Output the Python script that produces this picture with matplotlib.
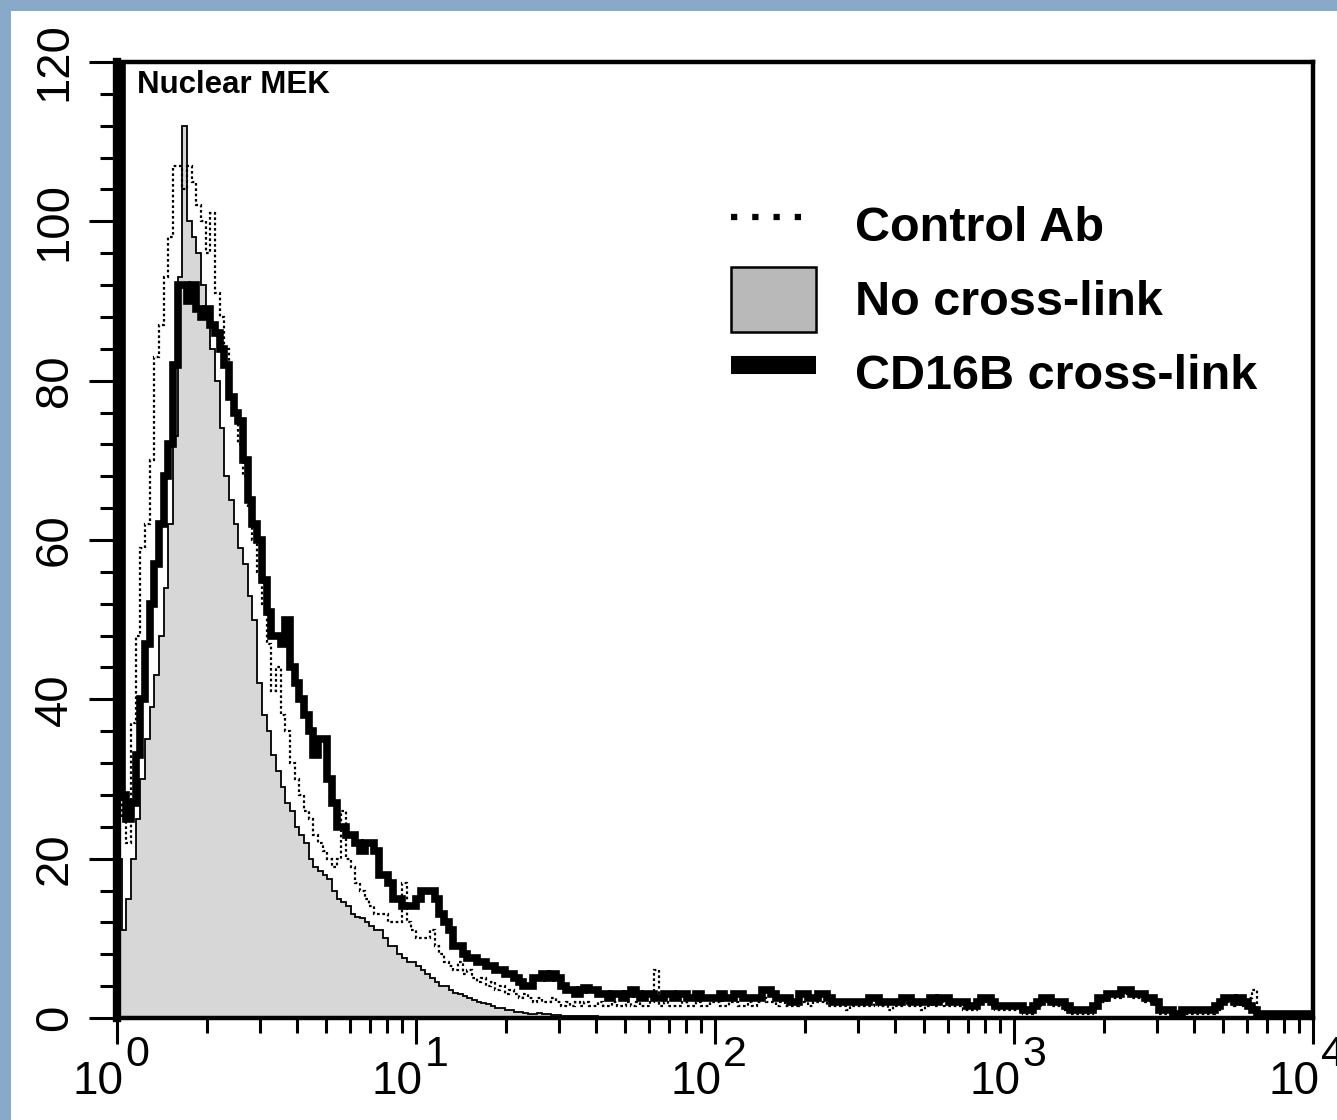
import matplotlib
matplotlib.use("Agg")
import matplotlib.pyplot as plt
from matplotlib.lines import Line2D
from matplotlib.patches import Patch, Rectangle
import matplotlib.transforms as mtransforms
import numpy as np

# histogram counts per channel, 64 channels per decade, starting at 10^0
cd16b_counts = [
    125, 28, 25, 27, 33, 40, 47, 52, 57, 62,
    68, 72, 82, 92, 92, 90, 92, 89, 88, 89,
    87, 86, 84, 82, 78, 76, 75, 70, 65, 62,
    60, 55, 51, 48, 48, 47, 50, 44, 42, 40,
    38, 36, 33, 35, 35, 30, 27, 24, 24, 23,
    23, 22, 21, 22, 22, 21, 18, 18, 17, 15,
    15, 14, 14, 14, 15, 16, 16, 16, 15, 13,
    12, 11, 9, 9, 8, 7.5, 7.5, 7, 7, 6.5,
    6.5, 6, 6, 5.5, 5.5, 5, 4.5, 4, 4, 5,
    5, 5.5, 5, 5.5, 5, 4, 3.5, 3.5, 3, 3.5,
    3.8, 3.5, 3.5, 3, 3, 2.5, 3, 3, 2.5, 3,
    3.5, 3, 2.5, 3, 3, 2.5, 2.5, 3, 3, 2.5,
    3, 3, 2.5, 2.5, 3, 2.5, 2.5, 2.5, 2.5, 3,
    2.5, 2.5, 3, 3, 2.5, 2.5, 2.5, 2.5, 3.5, 3.5,
    3, 2.5, 2.5, 2.5, 2, 2, 3, 3, 2.5, 2.5,
    3, 3, 2.5, 2, 2, 2, 2, 2, 2, 2,
    2, 2.5, 2.5, 2, 2, 2, 2, 2, 2.5, 2.5,
    2, 2, 2, 2, 2.5, 2, 2.5, 2.5, 2, 2,
    2, 2, 1.5, 1.5, 2, 2.5, 2.5, 2, 1.5, 1.5,
    1.5, 1.5, 1.5, 1.5, 1, 1, 1.5, 2, 2.5, 2.5,
    2, 2, 2, 1.5, 1, 1, 1, 1, 1, 1.5,
    2.5, 2.5, 3, 3, 3, 3.5, 3.5, 3, 3, 3,
    2.5, 2.5, 2, 1, 1, 1, 0.5, 0.5, 1, 1,
    1, 1, 1, 1, 1, 1.5, 2, 2.5, 2.5, 2,
    2.5, 2, 1.5, 1, 0.5, 0.5, 0.5, 0.5, 0.5, 0.5,
    0.5, 0.5, 0.5, 0.5, 0.5, 0.5,
]

control_counts = [
    69, 25, 22, 37, 48, 59, 62, 70, 83, 87,
    93, 98, 107, 107, 104, 107, 105, 102, 100, 96,
    101, 91, 88, 84, 78, 76, 72, 68, 64, 60,
    56, 52, 47, 41, 44, 38, 36, 32, 30, 28,
    26, 25, 23, 22, 21, 20, 19, 20, 26, 20,
    19, 17, 16, 15, 14, 13, 13, 13, 12, 12,
    12, 17, 12, 11, 10, 10, 10, 11, 9, 8,
    7, 6.5, 6, 7, 5.5, 6, 5, 4.5, 5, 4,
    4.5, 3.5, 4, 3, 3.5, 3, 2.5, 3, 2.5, 2,
    2.5, 2, 2, 2.5, 2, 1.5, 2, 1.5, 2, 1.5,
    2, 1.5, 1.5, 2, 1.5, 1.5, 2, 1.5, 1.5, 2,
    1.5, 2, 1.5, 1.5, 2, 6, 1.5, 2, 1.5, 1.5,
    1.5, 2, 1.5, 1.5, 2, 1.5, 1.5, 2, 2, 1.5,
    1.5, 2, 2, 1.5, 1.5, 2, 1.5, 2, 2.5, 2,
    2, 1.5, 2, 1.5, 1.5, 1.5, 2, 2, 1.5, 2,
    2, 2, 1.5, 1.5, 1.5, 1.5, 1, 1.5, 1.5, 1.5,
    1.5, 1.5, 2, 1.5, 1.5, 1, 1.5, 1.5, 2, 1.5,
    1.5, 1.5, 1, 1.5, 2, 1.5, 2, 1.5, 1.5, 1.5,
    1.5, 1, 1, 1, 1.5, 2, 2, 1.5, 1, 1,
    1, 1, 1, 1, 0.5, 0.5, 1, 1.5, 2, 2,
    1.5, 1.5, 1.5, 1, 0.5, 0.5, 0.5, 0.5, 0.5, 1,
    2, 2, 2.5, 2.5, 2.5, 3, 3, 2.5, 2.5, 2.5,
    2, 2, 1.5, 0.5, 0.5, 0.5, 0.5, 0.5, 0.5, 0.5,
    0.5, 0.5, 0.5, 0.5, 0.5, 1, 1.5, 2, 2, 1.5,
    2, 1.5, 2.5, 3.5, 0.5, 0.5, 0.5, 0.5, 0.5, 0.5,
    0.5, 0.5, 0.5, 0.5, 0.5, 0.5,
]

nocross_counts = [
    20, 11, 15, 20, 25, 30, 35, 39, 43, 48,
    54, 62, 73, 93, 112, 100, 98, 96, 92, 88,
    84, 80, 74, 68, 65, 62, 59, 57, 53, 50,
    42, 38, 36, 33, 31, 29, 27, 26, 24, 23,
    22, 20, 19, 18.5, 18, 17.5, 16, 15, 14.5, 14,
    13, 12.7, 12.5, 12, 11.5, 11, 11, 10, 9, 9,
    8, 7.5, 7, 7, 6.5, 6, 5.5, 5, 4.5, 4,
    4, 3.5, 3.2, 3, 2.8, 2.5, 2.2, 2, 1.9, 1.7,
    1.5, 1.3, 1.2, 1, 1, 0.8, 0.8, 0.6, 0.5, 0.5,
    0.6, 0.5, 0.5, 0.4, 0.4, 0.3, 0.3, 0.3, 0.2, 0.2,
    0.2, 0.2, 0.2, 0.1, 0.1, 0.1, 0.1, 0.1, 0.1, 0.1,
]

legend_labels = ["Control Ab", "No cross-link", "CD16B cross-link"]
y_ticks = [0, 20, 40, 60, 80, 100, 120]
decades = [0, 1, 2, 3, 4]

narrow = ["Liberation Sans Narrow", "Liberation Sans", "DejaVu Sans"]
plt.rcParams["font.family"] = ["Liberation Sans", "DejaVu Sans"]

fig = plt.figure(figsize=(13.37, 11.2), dpi=100)
fig.patch.set_facecolor("#88a9c8")
fig.patches.append(Rectangle((11 / 1337, 0), 1, 1 - 11 / 1120, transform=fig.transFigure,
                             facecolor="white", edgecolor="none", zorder=-10))

ax = fig.add_axes([117 / 1337, (1120 - 1018) / 1120, (1313 - 117) / 1337, (1018 - 62) / 1120])
ax.set_facecolor("white")

def edges(n):
    return 10 ** (np.arange(n + 1) / 64.0)

ax.stairs(nocross_counts, edges(len(nocross_counts)), fill=True, color="#d7d7d7", zorder=1)
ax.stairs(nocross_counts, edges(len(nocross_counts)), color="black", lw=1.3, zorder=2)
ax.stairs(control_counts, edges(len(control_counts)), color="black", lw=1.6,
          linestyle=(0, (1.2, 1.2)), zorder=3)
ax.stairs(cd16b_counts, edges(len(cd16b_counts)), color="black", lw=5.5, zorder=4)

ax.set_xscale("log")
ax.set_xlim(1, 1e4)
ax.set_ylim(0, 120)

for side in ["top", "right", "bottom"]:
    ax.spines[side].set_linewidth(3.2)
ax.spines["left"].set_linewidth(6)

ax.set_yticks(y_ticks)
ax.set_yticks(np.arange(0, 121, 4), minor=True)
ax.set_yticklabels([str(v) for v in y_ticks], rotation=90, va="center",
                   family=narrow, fontsize=34)
ax.tick_params(axis="y", which="major", direction="out", length=20, width=2.2, pad=9)
ax.tick_params(axis="y", which="minor", direction="out", length=12, width=2.2)

ax.xaxis.set_major_locator(matplotlib.ticker.LogLocator(base=10, numticks=10))
ax.xaxis.set_minor_locator(matplotlib.ticker.LogLocator(base=10, subs=np.arange(2, 10), numticks=100))
ax.xaxis.set_minor_formatter(matplotlib.ticker.NullFormatter())
ax.set_xticklabels([])
ax.tick_params(axis="x", which="major", direction="out", length=19, width=2.2)
ax.tick_params(axis="x", which="minor", direction="out", length=11, width=2.2)

trans = mtransforms.blended_transform_factory(ax.transData, ax.transAxes)
for d in decades:
    ax.annotate("10", xy=(10 ** d, 0), xycoords=trans, xytext=(5, -30),
                textcoords="offset points", ha="right", va="top",
                family=narrow, fontsize=33, annotation_clip=False)
    ax.annotate(str(d), xy=(10 ** d, 0), xycoords=trans, xytext=(6, -12),
                textcoords="offset points", ha="left", va="top",
                family=narrow, fontsize=31, annotation_clip=False)

ax.text(0.017, 0.992, "Nuclear MEK", transform=ax.transAxes, ha="left", va="top",
        fontsize=22.5, fontweight="bold")

handles = [
    Line2D([], [], color="black", lw=4.5, linestyle=(0, (1, 2.4)), solid_capstyle="butt"),
    Patch(facecolor="#b9b9b9", edgecolor="black", lw=1.8),
    Line2D([], [], color="black", lw=13, solid_capstyle="butt"),
]
leg = ax.legend(handles, legend_labels, loc="upper left", bbox_to_anchor=(0.513, 0.863),
                frameon=False, prop={"size": 35, "weight": "bold"},
                handlelength=1.75, handleheight=1.68, handletextpad=0.82,
                labelspacing=0.18, borderpad=0, borderaxespad=0)

fig.savefig("out.png", dpi=100, facecolor=fig.get_facecolor())
